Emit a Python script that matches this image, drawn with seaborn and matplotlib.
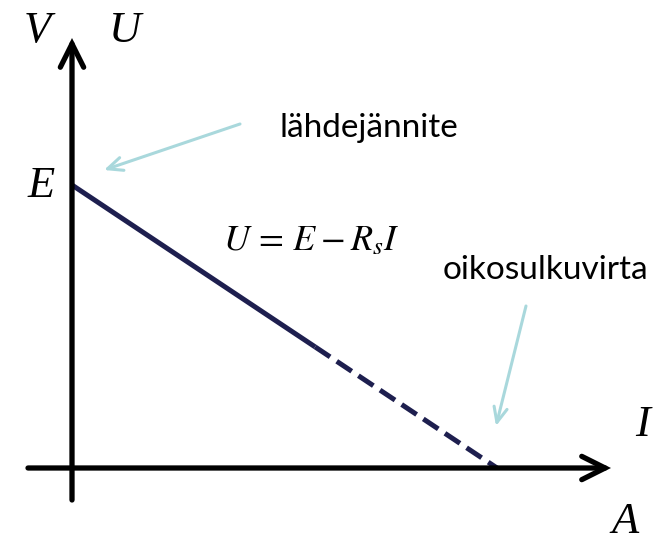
import matplotlib
matplotlib.use("Agg")
import matplotlib.pyplot as plt
import seaborn as sns
import pandas as pd

sns.set_theme(style="white")
plt.rcParams['mathtext.fontset'] = 'stix'

# data (normalised: E = 1, short-circuit current = 1)
current = [0.0, 0.572, 1.0]
voltage = [1.0, 0.428, 0.0]
axis_labels_y = ["V", "U", "E"]
axis_labels_x = ["I", "A"]
annotations = ["lähdejännite", "oikosulkuvirta"]
equation = r"$U\,=\,E - R_s I$"

solid = pd.DataFrame({"I": current[:2], "U": voltage[:2]})
dashed = pd.DataFrame({"I": current[1:], "U": voltage[1:]})

fig = plt.figure(figsize=(6.59, 5.47), dpi=100)
ax = fig.add_axes([0, 0, 1, 1])
ax.set_xlim(-72/425, (659-72)/425)
ax.set_ylim((468-547)/283, 468/283)
ax.axis("off")

navy = "#1e1f4f"
sns.lineplot(data=solid, x="I", y="U", ax=ax, color=navy, linewidth=3.6,
             solid_capstyle="butt")
sns.lineplot(data=dashed, x="I", y="U", ax=ax, color=navy, linewidth=3.6,
             dashes=False)
ax.lines[-1].set_dashes((3.6, 1.6))
ax.lines[-1].set_dash_capstyle("butt")

def px(x, y):
    return ((x-72)/425, (468-y)/283)

black_arrow = dict(arrowstyle="->,head_length=1.4,head_width=0.7", color="black",
                   linewidth=3.8, shrinkA=0, shrinkB=0, joinstyle="miter")
# vertical axis
ax.annotate("", xy=px(72, 38), xytext=px(72, 500), arrowprops=black_arrow)
# horizontal axis
ax.annotate("", xy=px(611, 468), xytext=px(28, 468), arrowprops=black_arrow)

serif = dict(family="Liberation Serif", style="italic", fontsize=32, color="black")
ax.text(*px(37, 31), axis_labels_y[0], ha="center", va="center", **serif)
ax.text(*px(125, 31), axis_labels_y[1], ha="center", va="center", **serif)
ax.text(*px(41, 186), axis_labels_y[2], ha="center", va="center", **serif)
ax.text(*px(643, 425), axis_labels_x[0], ha="center", va="center", **serif)
ax.text(*px(625, 522), axis_labels_x[1], ha="center", va="center", **serif)

ax.text(*px(311, 240), equation, ha="center", va="center", fontsize=26, color="black")

sans = dict(family="Lato", fontsize=24, color="black")
ax.text(*px(369, 128), annotations[0], ha="center", va="center", **sans)
ax.text(*px(545, 270), annotations[1], ha="center", va="center", **sans)

cyan_arrow = dict(arrowstyle="->,head_length=0.9,head_width=0.4", color="#a9d8dc",
                  linewidth=2.2, shrinkA=0, shrinkB=0)
ax.annotate("", xy=px(104, 170), xytext=px(240, 124), arrowprops=cyan_arrow)
ax.annotate("", xy=px(496, 426), xytext=px(526, 306), arrowprops=cyan_arrow)

fig.savefig("out.png", dpi=100)
